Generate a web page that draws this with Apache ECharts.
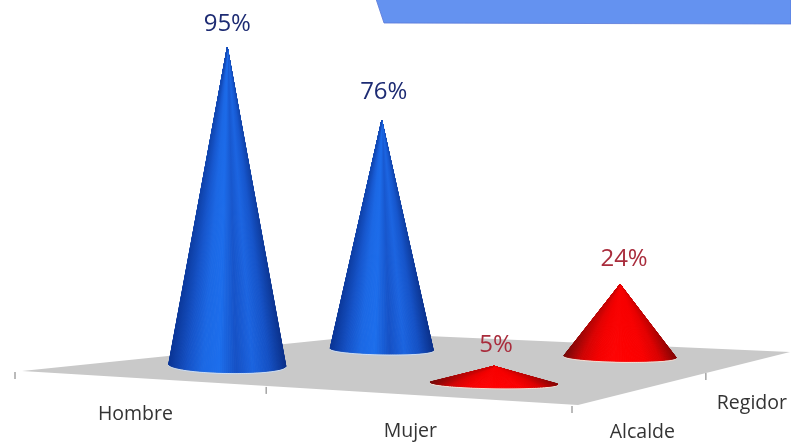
<!DOCTYPE html>
<html><head><meta charset="utf-8">
<style>html,body{margin:0;padding:0;background:#fff}#c{width:791px;height:442px}</style>
<script src="https://cdn.jsdelivr.net/npm/echarts@6/dist/echarts.min.js"></script>
</head><body><div id="c"></div>
<script>
const sexes = ['Hombre', 'Mujer'];
const roles = ['Alcalde', 'Regidor'];
const alcaldeValues = [95, 5];
const regidorValues = [76, 24];

// floor plane corners: left, front, right, back
const FL = [[22,371],[578,405],[790,352],[382,334]];
const W = 791, PLOT_H = 334;
const h = (function(){
  const [x0,y0]=FL[0],[x1,y1]=FL[1],[x2,y2]=FL[2],[x3,y3]=FL[3];
  const dx1=x1-x2,dx2=x3-x2,sx=x0-x1+x2-x3,dy1=y1-y2,dy2=y3-y2,sy=y0-y1+y2-y3;
  const det=dx1*dy2-dx2*dy1,g=(sx*dy2-dx2*sy)/det,k=(dx1*sy-sx*dy1)/det;
  return {a:x1-x0+g*x1,b:x3-x0+k*x3,c:x0,d:y1-y0+g*y1,e:y3-y0+k*y3,f:y0,g:g,k:k};
})();
function proj(u,v){const w=h.g*u+h.k*v+1;return [(h.a*u+h.b*v+h.c)/w,(h.d*u+h.e*v+h.f)/w];}
const ROW_LABEL_V = [0.27, 0.75];
const CELL_DU = [[-0.041,0.0085],[-0.007,-0.016]];
const CELL_V = [[0.234,0.193],[0.644,0.727]];
const LABEL_GAP = [[24,21],[28,25]];
const LABEL_DX = [[0,2],[2,4]];
const BLUE = ['#0a2f88','#1450c4','#1b64e0','#1550c4','#1c6eec','#1b68e4','#1450c4','#0a3596'];
const RED = ['#800404','#d80000','#fa0000','#ff0000','#ff0404','#f40000','#cc0303','#760808'];
const SEX_W = [1, 1.09], ROLE_W = [1, 0.88], ROLE_H = [1, 0.9];

function basePoint(api, sex, role){
  const u=api.coord([sex,0])[0]/W+CELL_DU[role][sex];
  return proj(u,CELL_V[role][sex]);
}
function coneItem(params, api){
  const sex=api.value(0), val=api.value(1), role=api.value(2);
  const base=basePoint(api,sex,role);
  const rx=api.size([1,0])[0]*0.148*SEX_W[sex]*ROLE_W[role];
  const ht=api.size([0,val])[1]*ROLE_H[role];
  const ry=(role===0&&sex===0)?7.5:4.8, tilt=1;
  const ramp=sex===0?BLUE:RED;
  const topCol=sex===0?'#1c66e4':'#f40000';
  const pt=t=>[base[0]+rx*Math.cos(t), base[1]+ry*Math.sin(t)+tilt*Math.cos(t)];
  const apex=[base[0],base[1]-ht];
  const kids=[];
  const halo=[];const N=90;
  for(let i=0;i<=N;i++){const p=pt(Math.PI*i/N);halo.push([p[0],p[1]+1.1]);}
  kids.push({type:'polyline',shape:{points:halo},style:{stroke:sex===0?'#c6dcfa':'#fbdccf',fill:null,lineWidth:1}});
  for(let i=0;i<N;i++){
    const a=Math.PI*i/N,b=Math.PI*(i+1)/N,x=(1+Math.cos((a+b)/2))/2;
    const col=echarts.color.lerp(1-x,ramp);
    const p=pt(a),q=pt(b);
    const mix=echarts.color.lerp(sex===0?0.45:0.75,[col,topCol]);
    const fill=new echarts.graphic.LinearGradient(apex[0],apex[1],p[0],p[1],[
      {offset:0,color:mix},{offset:sex===0?0.4:0.55,color:echarts.color.lerp(0.35,[mix,col])},{offset:1,color:col}],true);
    kids.push({type:'polygon',shape:{points:[apex,p,q]},style:{fill:fill,stroke:fill,lineWidth:1}});
  }
  return {type:'group',children:kids};
}
function labelItem(params, api){
  const sex=api.value(0), val=api.value(1), role=api.value(2);
  const base=basePoint(api,sex,role);
  const ht=api.size([0,val])[1]*ROLE_H[role];
  return {type:'text',style:{text:val+'%',x:base[0]+LABEL_DX[role][sex],y:base[1]-ht-LABEL_GAP[role][sex],align:'center',verticalAlign:'middle',
    font:'24px "Open Sans"',fill:sex===0?'#1d2b73':'#a92c3c'}};
}
function floorItem(){
  return {type:'polygon',shape:{points:[proj(0,0),proj(1,0),proj(1,1),proj(0,1)]},style:{fill:'#c9c9c9'}};
}
const SEX_LABEL_SHIFT=-0.018, ROLE_LABEL_DX=[-12,0], ROLE_LABEL_DY=[47,42];
function axisItem(params, api){
  const kids=[];
  const tick=(p,len)=>kids.push({type:'line',shape:{x1:p[0],y1:p[1],x2:p[0],y2:p[1]+len},style:{stroke:'#777',lineWidth:1}});
  [0,0.48,1].forEach(u=>{const p=proj(u,0);tick([p[0]-(u===0?7:u===1?6:0),p[1]+1],7);});
  tick(proj(1,0.5),7);
  const txt=(s,p)=>kids.push({type:'text',style:{text:s,x:p[0],y:p[1],align:'center',verticalAlign:'middle',font:'19.5px "Open Sans"',fill:'#333'}});
  sexes.forEach((s,i)=>{const c=api.coord([i,0])[0]/W+SEX_LABEL_SHIFT;const p=proj(c,0);txt(s,[p[0],p[1]+37]);});
  roles.forEach((s,i)=>{const p=proj(1,ROW_LABEL_V[i]);txt(s,[p[0]+ROLE_LABEL_DX[i],p[1]+ROLE_LABEL_DY[i]]);});
  return {type:'group',children:kids};
}
const cells=[];
roles.slice().reverse().forEach((r)=>{
  const ri=roles.indexOf(r), vals=ri===0?alcaldeValues:regidorValues;
  sexes.forEach((s,si)=>cells.push([si,vals[si],ri]));
});
const chart=echarts.init(document.getElementById('c'),null,{renderer:'canvas'});
chart.setOption({
  animation:false,
  backgroundColor:'#fff',
  grid:{left:0,top:0,width:W,height:PLOT_H},
  xAxis:{type:'category',data:sexes,show:false},
  yAxis:{type:'value',min:0,max:100,show:false},
  graphic:[{type:'polygon',silent:true,shape:{points:[[376,-1],[384,23],[791,24],[791,-1]]},
    style:{fill:'#6492f0',stroke:'#5a78d8',lineWidth:0.8}}],
  series:[
    {type:'custom',renderItem:floorItem,data:[[0,0,0]],silent:true,z:1},
    {type:'custom',renderItem:axisItem,data:[[0,0,0]],silent:true,z:2},
    {type:'custom',renderItem:coneItem,data:cells,silent:true,z:3},
    {type:'custom',renderItem:labelItem,data:cells,silent:true,z:4}
  ]
});
</script></body></html>
